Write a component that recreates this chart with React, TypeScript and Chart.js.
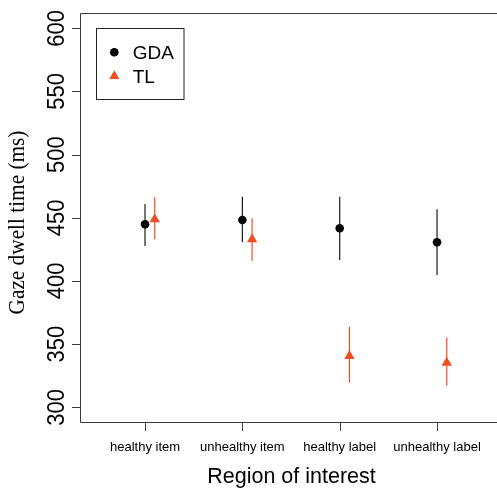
import React, { useEffect, useRef } from "react";
import { Chart, registerables } from "chart.js";

Chart.register(...registerables);

const categories = ["healthy item", "unhealthy item", "healthy label", "unhealthy label"];
const seriesNames = ["GDA", "TL"];
const gdaMean = [444.9, 448.3, 441.7, 430.6];
const gdaLow = [427.6, 430.6, 416.6, 404.7];
const gdaHigh = [460.9, 466.7, 466.7, 456.7];
const tlMean = [448.8, 433.0, 340.6, 335.3];
const tlLow = [433.0, 416.0, 319.5, 317.1];
const tlHigh = [466.2, 449.6, 363.8, 355.3];
const yTicks = [300, 350, 400, 450, 500, 550, 600];
const xTitle = "Region of interest";
const yTitle = "Gaze dwell time (ms)";

const TL_OFFSET = 0.1;
const GDA_COLOR = "#000000";
const TL_COLOR = "#F04F22";
const AXIS_COLOR = "#3a3a3a";
const SANS = '"Liberation Sans", Arial, Helvetica, sans-serif';
const SERIF = '"Liberation Serif", "Times New Roman", serif';

function drawText(
  ctx: CanvasRenderingContext2D,
  text: string,
  x: number,
  y: number,
  font: string,
  align: CanvasTextAlign,
  rotate: boolean,
  stretch = 1
) {
  ctx.save();
  ctx.translate(x, y);
  if (rotate) ctx.rotate(-Math.PI / 2);
  ctx.scale(1, stretch);
  ctx.font = font;
  ctx.textAlign = align;
  ctx.textBaseline = "alphabetic";
  ctx.fillStyle = "#000";
  ctx.fillText(text, 0, 0);
  ctx.restore();
}

const decorPlugin = {
  id: "decor",
  beforeDatasetsDraw(chart: any) {
    const { ctx, chartArea: a, scales } = chart;
    const x = scales.x;
    const y = scales.y;
    ctx.save();
    // axes / box
    ctx.strokeStyle = AXIS_COLOR;
    ctx.lineWidth = 1;
    ctx.beginPath();
    ctx.moveTo(chart.width, a.top + 0.5);
    ctx.lineTo(a.left + 0.5, a.top + 0.5);
    ctx.lineTo(a.left + 0.5, a.bottom - 0.5);
    ctx.lineTo(chart.width, a.bottom - 0.5);
    ctx.stroke();
    // y ticks
    yTicks.forEach((v) => {
      const py = Math.round(y.getPixelForValue(v)) + 0.5;
      ctx.beginPath();
      ctx.moveTo(a.left - 8, py);
      ctx.lineTo(a.left + 0.5, py);
      ctx.stroke();
      drawText(ctx, String(v), 63.5, y.getPixelForValue(v), `22px ${SANS}`, "center", true, 1.08);
    });
    // x ticks
    categories.forEach((c, i) => {
      const px = Math.round(x.getPixelForValue(i + 1)) + 0.5;
      ctx.beginPath();
      ctx.moveTo(px, a.bottom - 0.5);
      ctx.lineTo(px, a.bottom + 8);
      ctx.stroke();
      drawText(ctx, c, x.getPixelForValue(i + 1), 451, `13px ${SANS}`, "center", false);
    });
    // titles
    drawText(ctx, xTitle, 291.5, 483, `21.5px ${SANS}`, "center", false);
    drawText(ctx, yTitle, 24.2, 222.5, `21.3px ${SERIF}`, "center", true, 1.1);
    // error bars
    const bars = (means: number[], lows: number[], highs: number[], off: number, color: string) => {
      ctx.strokeStyle = color;
      ctx.lineWidth = 1.2;
      means.forEach((m, i) => {
        const px = x.getPixelForValue(i + 1 + off);
        ctx.beginPath();
        ctx.moveTo(px, y.getPixelForValue(lows[i]));
        ctx.lineTo(px, y.getPixelForValue(highs[i]));
        ctx.stroke();
      });
    };
    bars(gdaMean, gdaLow, gdaHigh, 0, "#1a1a1a");
    bars(tlMean, tlLow, tlHigh, TL_OFFSET, TL_COLOR);
    ctx.restore();
  },
  afterDraw(chart: any) {
    const { ctx } = chart;
    ctx.save();
    // legend box
    ctx.strokeStyle = "#222";
    ctx.lineWidth = 1;
    ctx.strokeRect(96.5, 28.5, 87.5, 71);
    ctx.fillStyle = GDA_COLOR;
    ctx.beginPath();
    ctx.arc(114.3, 52.3, 4.3, 0, Math.PI * 2);
    ctx.fill();
    // triangle
    const r = 5.8;
    const cx = 114.3;
    const cy = 76;
    ctx.fillStyle = TL_COLOR;
    ctx.beginPath();
    ctx.moveTo(cx, cy - r);
    ctx.lineTo(cx + r * Math.cos(Math.PI / 6), cy + r / 2);
    ctx.lineTo(cx - r * Math.cos(Math.PI / 6), cy + r / 2);
    ctx.closePath();
    ctx.fill();
    drawText(ctx, seriesNames[0], 132.7, 59.3, `19px ${SANS}`, "left", false);
    drawText(ctx, seriesNames[1], 132.7, 83.3, `19px ${SANS}`, "left", false);
    ctx.restore();
  },
};

export default function App() {
  const ref = useRef<HTMLCanvasElement | null>(null);
  useEffect(() => {
    if (!ref.current) return;
    const chart = new Chart(ref.current, {
      type: "scatter",
      data: {
        datasets: [
          {
            label: seriesNames[0],
            data: gdaMean.map((v, i) => ({ x: i + 1, y: v })),
            pointStyle: "circle",
            radius: 4.3,
            backgroundColor: GDA_COLOR,
            borderColor: GDA_COLOR,
            borderWidth: 0,
          },
          {
            label: seriesNames[1],
            data: tlMean.map((v, i) => ({ x: i + 1 + TL_OFFSET, y: v })),
            pointStyle: "triangle",
            radius: 6,
            backgroundColor: TL_COLOR,
            borderColor: TL_COLOR,
            borderWidth: 0,
          },
        ],
      },
      options: {
        responsive: false,
        animation: false,
        devicePixelRatio: 1,
        layout: { autoPadding: false, padding: { left: 80, top: 13, right: 0, bottom: 66 } },
        plugins: { legend: { display: false }, tooltip: { enabled: false } },
        scales: {
          x: { type: "linear", display: false, min: 0.332, max: 4.616 },
          y: { type: "linear", display: false, min: 287.6, max: 612.1 },
        },
      },
      plugins: [decorPlugin],
    });
    return () => chart.destroy();
  }, []);
  return (
    <div style={{ position: "fixed", left: 0, top: 0, width: 497, height: 489, overflow: "hidden", background: "#fff" }}>
      <canvas ref={ref} width={497} height={489} style={{ display: "block" }} />
    </div>
  );
}
